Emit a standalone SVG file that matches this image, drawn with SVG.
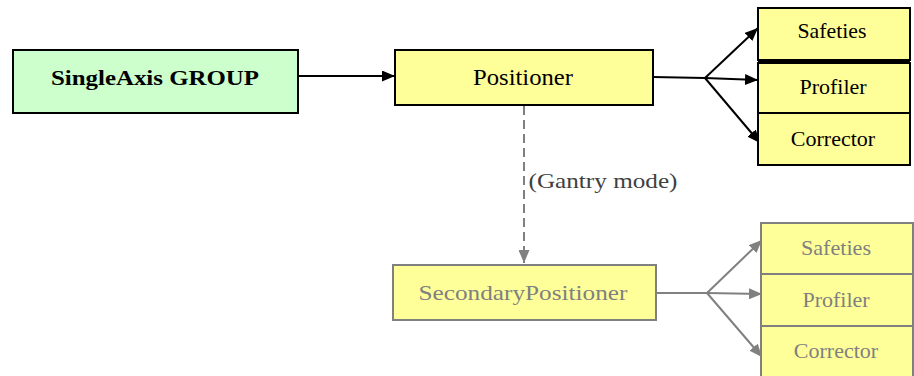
<svg xmlns="http://www.w3.org/2000/svg" width="914" height="376" viewBox="0 0 914 376">
<style>
  .tx { font-family: 'Liberation Serif', 'DejaVu Serif', serif; text-anchor: middle; }
  .bx { stroke: #000; stroke-width: 2; }
  .gbx { stroke: #808080; stroke-width: 2; fill: #ffff99; }
  .yel { fill: #ffff99; }
  .ln { stroke: #000; stroke-width: 2; fill: none; }
  .gln { stroke: #808080; stroke-width: 2; fill: none; }
  .t20 { font-size: 22px; fill: #000; }
  .g20 { font-size: 22px; fill: #808080; }
</style>
<defs>
  <marker id="ah" viewBox="0 0 13 11" refX="13" refY="5.5" markerWidth="13" markerHeight="11" markerUnits="userSpaceOnUse" orient="auto">
    <path d="M0,0 L13,5.5 L0,11 Z" fill="#000"/>
  </marker>
  <marker id="gah" viewBox="0 0 13 11" refX="13" refY="5.5" markerWidth="13" markerHeight="11" markerUnits="userSpaceOnUse" orient="auto">
    <path d="M0,0 L13,5.5 L0,11 Z" fill="#808080"/>
  </marker>
</defs>
<rect width="914" height="376" fill="#fff"/>

<g id="connectors">
  <line class="ln" x1="298" y1="76" x2="395" y2="76" marker-end="url(#ah)"/>
  <polyline class="ln" points="653,77 705,78"/>
  <line class="ln" x1="705" y1="78" x2="758" y2="28" marker-end="url(#ah)"/>
  <line class="ln" x1="705" y1="78" x2="758" y2="80" marker-end="url(#ah)"/>
  <line class="ln" x1="705" y1="78" x2="760" y2="143" marker-end="url(#ah)"/>
  <line class="gln" x1="524" y1="106" x2="524" y2="263" stroke-dasharray="9,5" marker-end="url(#gah)"/>
  <text class="tx" x="603" y="188" style="font-size:21px;fill:#404040" textLength="149" lengthAdjust="spacingAndGlyphs">(Gantry mode)</text>
  <line class="gln" x1="656" y1="293" x2="707" y2="293"/>
  <line class="gln" x1="707" y1="293" x2="762" y2="240" marker-end="url(#gah)"/>
  <line class="gln" x1="707" y1="293" x2="762" y2="294" marker-end="url(#gah)"/>
  <line class="gln" x1="707" y1="293" x2="762" y2="357" marker-end="url(#gah)"/>
</g>

<g id="singleaxis">
  <rect class="bx" x="13" y="50" width="285" height="63" fill="#ccffcc"/>
  <text class="tx" x="155" y="85" style="font-size:22px;font-weight:bold" textLength="208" lengthAdjust="spacingAndGlyphs">SingleAxis GROUP</text>
</g>

<g id="positioner">
  <rect class="bx yel" x="395" y="50" width="258" height="55"/>
  <text class="tx t20" x="523" y="85" style="font-size:24px" textLength="100" lengthAdjust="spacingAndGlyphs">Positioner</text>
</g>

<g id="safeties">
  <rect class="bx yel" x="758" y="8" width="152" height="52"/>
  <text class="tx t20" x="832" y="38" textLength="69" lengthAdjust="spacingAndGlyphs">Safeties</text>
</g>
<line x1="758" y1="61" x2="910" y2="61" stroke="#000" stroke-width="4"/>
<g id="profiler">
  <rect class="bx yel" x="758" y="63" width="152" height="50"/>
  <text class="tx t20" x="833" y="94">Profiler</text>
</g>
<g id="corrector">
  <rect class="bx yel" x="758" y="113" width="152" height="52"/>
  <text class="tx t20" x="833" y="146">Corrector</text>
</g>

<g id="secondarypositioner">
  <rect class="gbx" x="393" y="265" width="263" height="55"/>
  <text class="tx g20" x="523" y="300" textLength="209" lengthAdjust="spacingAndGlyphs">SecondaryPositioner</text>
</g>

<g id="safeties2">
  <rect class="gbx" x="761" y="223" width="152" height="51"/>
  <text class="tx g20" x="836" y="255" textLength="70" lengthAdjust="spacingAndGlyphs">Safeties</text>
</g>
<g id="profiler2">
  <rect class="gbx" x="761" y="274" width="152" height="52"/>
  <text class="tx g20" x="836" y="307">Profiler</text>
</g>
<g id="corrector2">
  <rect class="gbx" x="761" y="326" width="152" height="60"/>
  <text class="tx g20" x="836" y="358">Corrector</text>
</g>
</svg>
